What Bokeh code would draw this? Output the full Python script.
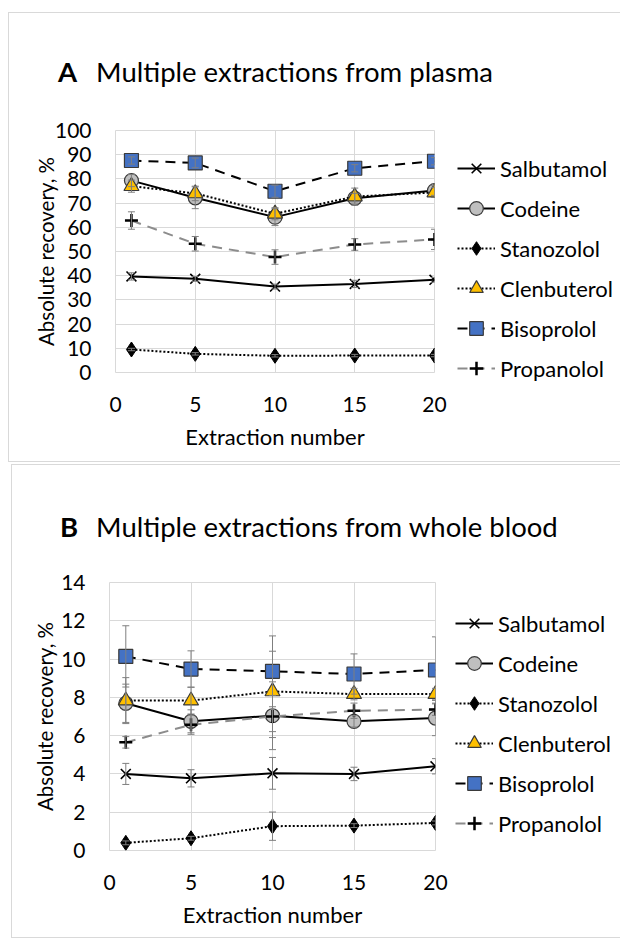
import math
from bokeh.plotting import figure
from bokeh.layouts import column, row
from bokeh.models import (ColumnDataSource, Whisker, TeeHead, Legend, LegendItem,
                          FixedTicker, Div, Spacer)
from bokeh.embed import file_html
from bokeh.resources import INLINE

# ---------------- data ----------------
extraction = [1, 5, 10, 15, 20]
compounds = ["Salbutamol", "Codeine", "Stanozolol", "Clenbuterol", "Bisoprolol", "Propanolol"]

# Panel A: plasma (absolute recovery, %)
plasma_salbutamol = [39.7, 38.7, 35.5, 36.6, 38.3]
plasma_codeine = [79.3, 72.2, 64.2, 72.0, 75.2]
plasma_stanozolol = [9.5, 7.7, 6.9, 7.0, 7.0]
plasma_clenbuterol = [77.0, 74.0, 65.6, 72.7, 74.4]
plasma_bisoprolol = [87.6, 86.6, 74.9, 84.4, 87.3]
plasma_propanolol = [62.8, 53.2, 47.7, 52.9, 55.0]

plasma_salbutamol_err = [1.5, 1.0, 1.0, 1.5, 1.0]
plasma_codeine_err = [2.5, 4.5, 3.5, 2.0, 2.0]
plasma_stanozolol_err = [0.5, 0.5, 0.5, 0.5, 0.5]
plasma_clenbuterol_err = [2.5, 3.0, 2.5, 3.5, 2.0]
plasma_bisoprolol_err = [1.5, 2.0, 2.5, 1.5, 1.5]
plasma_propanolol_err = [3.6, 3.0, 3.0, 2.4, 4.2]

# Panel B: whole blood (absolute recovery, %)
blood_salbutamol = [4.0, 3.77, 4.03, 4.0, 4.4]
blood_codeine = [7.69, 6.75, 7.04, 6.75, 6.92]
blood_stanozolol = [0.4, 0.64, 1.27, 1.3, 1.44]
blood_clenbuterol = [7.83, 7.83, 8.31, 8.17, 8.17]
blood_bisoprolol = [10.14, 9.48, 9.36, 9.22, 9.43]
blood_propanolol = [5.65, 6.57, 7.0, 7.3, 7.36]

blood_salbutamol_err = [0.55, 0.45, 0.83, 0.35, 0.4]
blood_codeine_err = [1.0, 0.6, 1.77, 0.3, 0.92]
blood_stanozolol_err = [0.1, 0.1, 0.74, 0.1, 0.1]
blood_clenbuterol_err = [1.2, 0.7, 2.1, 0.3, 0.3]
blood_bisoprolol_err = [1.6, 0.95, 1.85, 1.05, 1.73]
blood_propanolol_err = [0.3, 0.5, 1.1, 0.4, 0.3]

x_ticks = [0, 5, 10, 15, 20]
plasma_y_ticks = [0, 10, 20, 30, 40, 50, 60, 70, 80, 90, 100]
blood_y_ticks = [0, 2, 4, 6, 8, 10, 12, 14]

plasma_values = [plasma_salbutamol, plasma_codeine, plasma_stanozolol,
                 plasma_clenbuterol, plasma_bisoprolol, plasma_propanolol]
plasma_errors = [plasma_salbutamol_err, plasma_codeine_err, plasma_stanozolol_err,
                 plasma_clenbuterol_err, plasma_bisoprolol_err, plasma_propanolol_err]
blood_values = [blood_salbutamol, blood_codeine, blood_stanozolol,
                blood_clenbuterol, blood_bisoprolol, blood_propanolol]
blood_errors = [blood_salbutamol_err, blood_codeine_err, blood_stanozolol_err,
                blood_clenbuterol_err, blood_bisoprolol_err, blood_propanolol_err]

# ---------------- styles ----------------
FONT = "Lato"
EDGE = "#3a3a3a"
styles = {
    "Salbutamol": dict(marker="x", size=14, fill="black", mline="black", mlw=1.6,
                       lcolor="black", dash="solid"),
    "Codeine": dict(marker="circle", size=14, fill="#bfbfbf", mline=EDGE, mlw=1.2,
                    lcolor="black", dash="solid"),
    "Stanozolol": dict(marker="diamond", size=15, fill="black", mline="black", mlw=1,
                       lcolor="black", dash="2 2"),
    "Clenbuterol": dict(marker="triangle", size=15, fill="#ffc000", mline=EDGE, mlw=1.2,
                        lcolor="black", dash="2 2"),
    "Bisoprolol": dict(marker="square", size=14, fill="#4472c4", mline=EDGE, mlw=1.2,
                       lcolor="black", dash="10 7"),
    "Propanolol": dict(marker="cross", size=13, fill="black", mline="black", mlw=2.5,
                       lcolor="#8c8c8c", dash="10 7"),
}
ERR = "#7f7f7f"
BOX = {"box-shadow": "inset 1px 0 0 #d9d9d9, inset 0 1px 0 #d9d9d9, inset 0 -1px 0 #d9d9d9"}


def title_div(letter, text, width, height, pad_top, pad_left, gap):
    html = ('<div style="padding:%dpx 0 0 %dpx;font-family:Lato;font-size:27.5px;'
            'line-height:1.2;color:#000;white-space:nowrap">'
            '<b>%s</b><span style="margin-left:%dpx">%s</span></div>'
            % (pad_top, pad_left, letter, gap, text))
    return Div(text=html, width=width, height=height, margin=0)


def make_panel(values, errors, y_end, y_ticks, geom, legend_xy, ylabel_standoff):
    fw, fh, bl, bt, br, bb = geom
    p = figure(frame_width=fw, frame_height=fh, min_border_left=bl, min_border_top=bt,
               min_border_right=br, min_border_bottom=bb,
               x_range=(0, 20), y_range=(0, y_end),
               output_backend="svg", toolbar_location=None, margin=0,
               border_fill_color=None, background_fill_color="white")
    p.outline_line_color = "#d9d9d9"
    p.grid.grid_line_color = "#d9d9d9"
    p.grid.grid_line_width = 1
    p.xaxis.ticker = FixedTicker(ticks=x_ticks)
    p.yaxis.ticker = FixedTicker(ticks=y_ticks)
    p.xgrid.ticker = FixedTicker(ticks=x_ticks)
    p.ygrid.ticker = FixedTicker(ticks=y_ticks)
    for ax in (p.xaxis[0], p.yaxis[0]):
        ax.axis_line_color = None
        ax.major_tick_line_color = None
        ax.minor_tick_line_color = None
        ax.major_tick_out = 0
        ax.major_tick_in = 0
        ax.major_label_text_font = FONT
        ax.major_label_text_font_size = "21px"
        ax.major_label_text_color = "black"
        ax.axis_label_text_font = FONT
        ax.axis_label_text_font_style = "normal"
        ax.axis_label_text_color = "black"
    p.xaxis.axis_label = "Extraction number"
    p.yaxis.axis_label = "Absolute recovery, %"
    p.xaxis.axis_label_text_font_size = "22px"
    p.yaxis.axis_label_text_font_size = "20.5px"
    p.xaxis.major_label_standoff = 24
    p.yaxis.major_label_standoff = 24
    p.xaxis.axis_label_standoff = 8
    p.yaxis.axis_label_standoff = ylabel_standoff

    items = []
    for name, vals, errs in zip(compounds, values, errors):
        st = styles[name]
        src = ColumnDataSource(dict(x=extraction, y=vals,
                                    upper=[v + e for v, e in zip(vals, errs)],
                                    lower=[v - e for v, e in zip(vals, errs)]))
        w = Whisker(source=src, base="x", upper="upper", lower="lower",
                    line_color=ERR, line_width=1, level="glyph",
                    upper_head=TeeHead(size=7, line_color=ERR, line_width=1),
                    lower_head=TeeHead(size=7, line_color=ERR, line_width=1))
        p.add_layout(w)
        lr = p.line("x", "y", source=src, line_color=st["lcolor"], line_width=2,
                    line_dash=st["dash"])
        sr = p.scatter("x", "y", source=src, marker=st["marker"], size=st["size"],
                       fill_color=st["fill"], line_color=st["mline"], line_width=st["mlw"])
        items.append(LegendItem(label=name, renderers=[lr, sr]))

    legend = Legend(items=items, location=legend_xy, orientation="vertical",
                    glyph_width=38, glyph_height=34, label_height=34, spacing=6,
                    padding=0, margin=0, label_standoff=5,
                    border_line_color=None, background_fill_alpha=0,
                    label_text_font=FONT, label_text_font_size="22px",
                    label_text_color="black")
    p.add_layout(legend, "right")
    return p


# Panel A: occupies page x 8..620, y 12..462
divA = title_div("A", "Multiple extractions from plasma", 612, 100, 43, 50, 19)
pA = make_panel(plasma_values, plasma_errors, 100, plasma_y_ticks,
                (319, 242, 107, 18, 186, 90), (23, -13), -6)
colA = column(divA, pA, spacing=0, margin=0, styles=BOX)

# Panel B: occupies page x 11..620, y 464..938
divB = title_div("B", "Multiple extractions from whole blood", 609, 100, 46, 49, 18)
pB = make_panel(blood_values, blood_errors, 14, blood_y_ticks,
                (326, 268, 98, 18, 185, 88), (20, 10), 1)
colB = column(divB, pB, spacing=0, margin=0, styles=BOX)

layout = column(
    Spacer(width=620, height=12, margin=0),
    row(Spacer(width=8, height=450, margin=0), colA, spacing=0, margin=0),
    Spacer(width=620, height=2, margin=0),
    row(Spacer(width=11, height=474, margin=0), colB, spacing=0, margin=0),
    spacing=0, margin=0,
)
open("out.html", "w").write(file_html(layout, INLINE))
